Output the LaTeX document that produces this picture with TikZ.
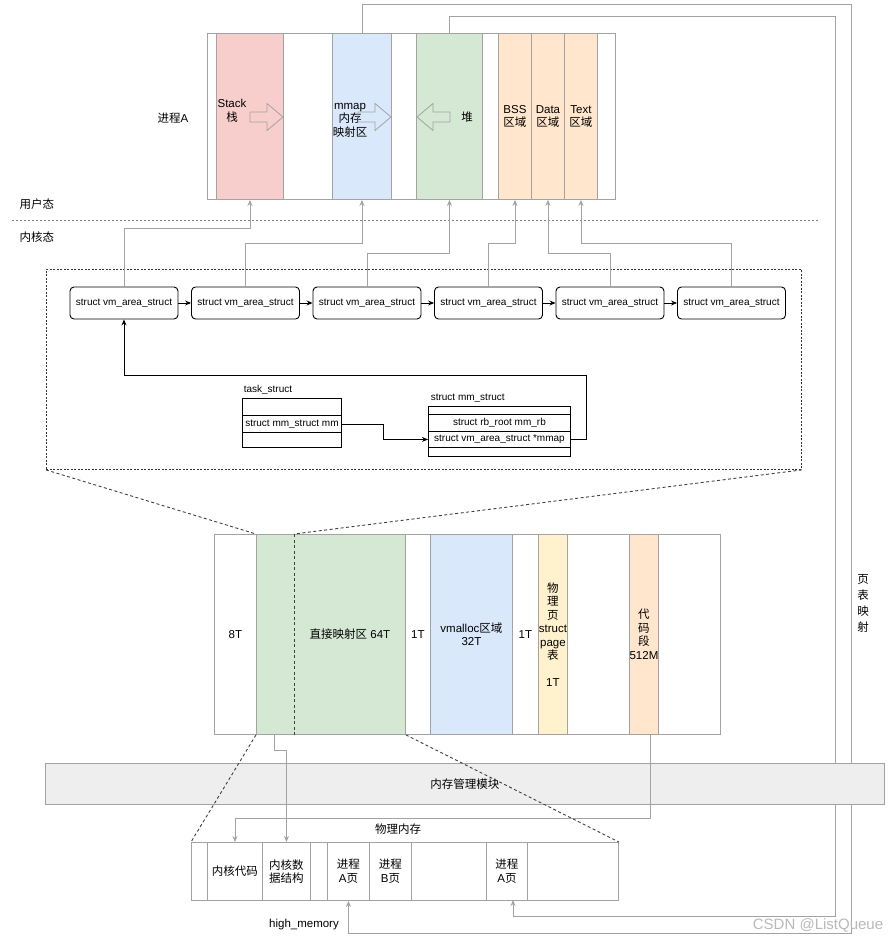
\documentclass[tikz,border=0pt]{standalone}
\usepackage{fontspec}
\setmainfont{Liberation Sans}
\newfontfamily\cjk{Noto Sans CJK SC}
\usetikzlibrary{arrows.meta}
\definecolor{linegray}{HTML}{A3A3A3}
\definecolor{stackc}{HTML}{F8CECC}
\definecolor{mmapc}{HTML}{DAE8FC}
\definecolor{heapc}{HTML}{D5E8D4}
\definecolor{segc}{HTML}{FFE6CC}
\definecolor{pagec}{HTML}{FFF2CC}
\definecolor{bandc}{HTML}{EEEEEE}
\newcommand{\sz}{\fontsize{10}{12}\selectfont}
\newcommand{\fatarr}[2]{\draw[hollow, shift={(#1)}, xscale=#2] (0,-5) -- (17,-5) -- (17,-13.5) -- (33,0) -- (17,13.5) -- (17,5) -- (0,5) -- cycle;}
\tikzset{
  cell/.style 2 args={draw=linegray, anchor=north west, inner sep=0pt, minimum width=#1, minimum height=#2},
  row/.style 2 args={draw, anchor=north west, inner sep=0pt, minimum width=#1, minimum height=#2, font=\sz},
  vm/.style={draw, rounded corners=4pt, minimum width=108, minimum height=32, inner sep=0pt, font=\sz},
  gline/.style={draw=linegray, -{Stealth[length=6pt,width=5pt]}},
  bline/.style={-{Stealth[length=6pt,width=5pt]}},
  hollow/.style={draw=linegray, line width=0.8pt},
  divline/.style={draw=gray, dash pattern=on 2pt off 2pt},
  zoomline/.style={draw=black!75, dash pattern=on 3pt off 2.5pt}
}
\begin{document}
\begin{tikzpicture}[x=1pt, y=-1pt, line width=0.9pt, font=\fontsize{11.5}{13.5}\selectfont, every node/.append style={align=center}]
\useasboundingbox (0,0) rectangle (891,941);
% user space of process A
\node[cell={408}{166}] (procA) at (207,33) {};
\node[cell={67}{166}, fill=stackc] (stack) at (216,33) {};
\node[cell={59}{166}, fill=mmapc] (mmap) at (332,33) {};
\node[cell={66}{166}, fill=heapc] (heap) at (416,33) {};
\foreach \nm/\x/\lab in {bss/498/BSS, data/531/Data, text/564/Text}
  \node[cell={33}{166}, fill=segc] (\nm) at (\x,33) {\lab\\{\cjk 区域}};
\node (stacklab) at (232,111) {Stack\\{\cjk 栈}};
\node (mmaplab) at (350,120) {mmap\\{\cjk 内存}\\{\cjk 映射区}};
\node (heaplab) at (467,117) {\cjk 堆};
\fatarr{250,117}{1}
\fatarr{358,117}{1}
\fatarr{450,117}{-1}
\node (procname) at (173,118) {{\cjk 进程}A};
\node (user) at (37,204) {\cjk 用户态};
\node (kern) at (37,237) {\cjk 内核态};
\draw[divline] (12,220) -- (819,220);
% kernel structures
\node[cell={755}{200}, draw=black!80, dash pattern=on 2pt off 1.5pt] (kbox) at (46,269) {};
\foreach \i in {1,...,6}
  \node[vm] (vm\i) at ({124+121.5*(\i-1)},303) {struct vm\_area\_struct};
\foreach \i [count=\j from 2] in {1,...,5}
  \draw[bline] (vm\i) -- (vm\j);
\foreach \i/\seg/\lv in {1/stack/228, 2/mmap/243, 3/heap/253, 4/bss/243, 5/data/253, 6/text/243}
  \draw[gline] (vm\i.north) -- (vm\i.north |- 0,\lv) -| (\seg.south);
\node[anchor=west, font=\sz] (tasklab) at (240,390) {task\_struct};
\node[row={99}{17}] (t0) at (242,398) {};
\node[row={99}{17}] (t1) at (242,415) {struct mm\_struct mm};
\node[row={99}{15}] (t2) at (242,432) {};
\node[anchor=west, font=\sz] (mmlab) at (427,398) {struct mm\_struct};
\node[row={142}{8}] (m0) at (428,406) {};
\node[row={142}{17}] (m1) at (428,414) {struct rb\_root mm\_rb};
\node[row={142}{16}] (m2) at (428,431) {struct vm\_area\_struct *mmap};
\node[row={142}{9}] (m3) at (428,447) {};
\draw[bline] (t1.east) -- ++(42,0) |- (m2.west);
\draw[bline] (m2.east) -- ++(16,0) |- (vm1.south |- 0,375) -- (vm1.south);
% kernel address space
\node[cell={42}{200}] (k8) at (214,534) {8T};
\node[cell={149}{200}, fill=heapc] (dmap) at (256,534) {};
\coordinate (split) at (294,534);
\draw[zoomline] (split) -- (split |- dmap.south);
\node (dmaplab) at (350,634) {{\cjk 直接映射区} 64T};
\node[cell={25}{200}] (g1) at (405,534) {1T};
\node[cell={82}{200}, fill=mmapc] (vmal) at (430,534) {vmalloc{\cjk 区域}\\32T};
\node[cell={26}{200}] (g2) at (512,534) {1T};
\node[cell={29}{200}, fill=pagec] (pg) at (538,534) {{\cjk 物}\\{\cjk 理}\\{\cjk 页}\\struct\\page\\{\cjk 表}\\[13.5pt]1T};
\node[cell={62}{200}] (w1) at (567,534) {};
\node[cell={29}{200}, fill=segc] (code) at (629,534) {{\cjk 代}\\{\cjk 码}\\{\cjk 段}\\512M};
\node[cell={62}{200}] (w2) at (658,534) {};
\draw[zoomline] (kbox.south west) -- (dmap.north west);
\draw[zoomline] (kbox.south east) -- (split);
% physical memory
\node[cell={16}{58}] (c0) at (191,842) {};
\node[cell={55}{58}] (kcode) at (207,842) {\cjk 内核代码};
\node[cell={48}{58}] (kdata) at (262,842) {{\cjk 内核数}\\{\cjk 据结构}};
\node[cell={17}{58}] (c3) at (310,842) {};
\node[cell={42}{58}] (pa) at (327,842) {{\cjk 进程}\\A{\cjk 页}};
\node[cell={42}{58}] (pb) at (369,842) {{\cjk 进程}\\B{\cjk 页}};
\node[cell={75}{58}] (c6) at (411,842) {};
\node[cell={41}{58}] (pa2) at (486,842) {{\cjk 进程}\\A{\cjk 页}};
\node[cell={91}{58}] (c8) at (527,842) {};
\node (pmlab) at (398,829) {\cjk 物理内存};
\node (hmem) at (304,925) {high\_memory};
% page table mapping
\coordinate (pa2in) at (513,900);
\draw[gline] (mmap.north) -- (mmap.north |- 0,4) -- (851,4) -- (851,933) -| (pa.south);
\draw[gline] (heap.north) -- (heap.north |- 0,16) -- (835,16) -- (835,916) -| (pa2in);
\node[font=\cjk\fontsize{11.5}{16}\selectfont] (ptlab) at (863,603) {页\\表\\映\\射};
% memory management band
\node[cell={839}{41}, fill=bandc] (band) at (45,763) {\cjk 内存管理模块};
\coordinate (dsrc) at (274,734);
\coordinate (csrc) at (650,734);
\draw[gline] (dsrc) -- ++(0,16) -| (kdata.north);
\draw[gline] (csrc) |- (kcode.north |- 0,818) -- (kcode.north);
\draw[zoomline] (dmap.south west) -- (c0.north west);
\draw[zoomline] (dmap.south east) -- (c8.north east);
\node[text=gray!55, font=\fontsize{15}{18}\selectfont] (mark) at (818,925) {CSDN @ListQueue};
\end{tikzpicture}
\end{document}
